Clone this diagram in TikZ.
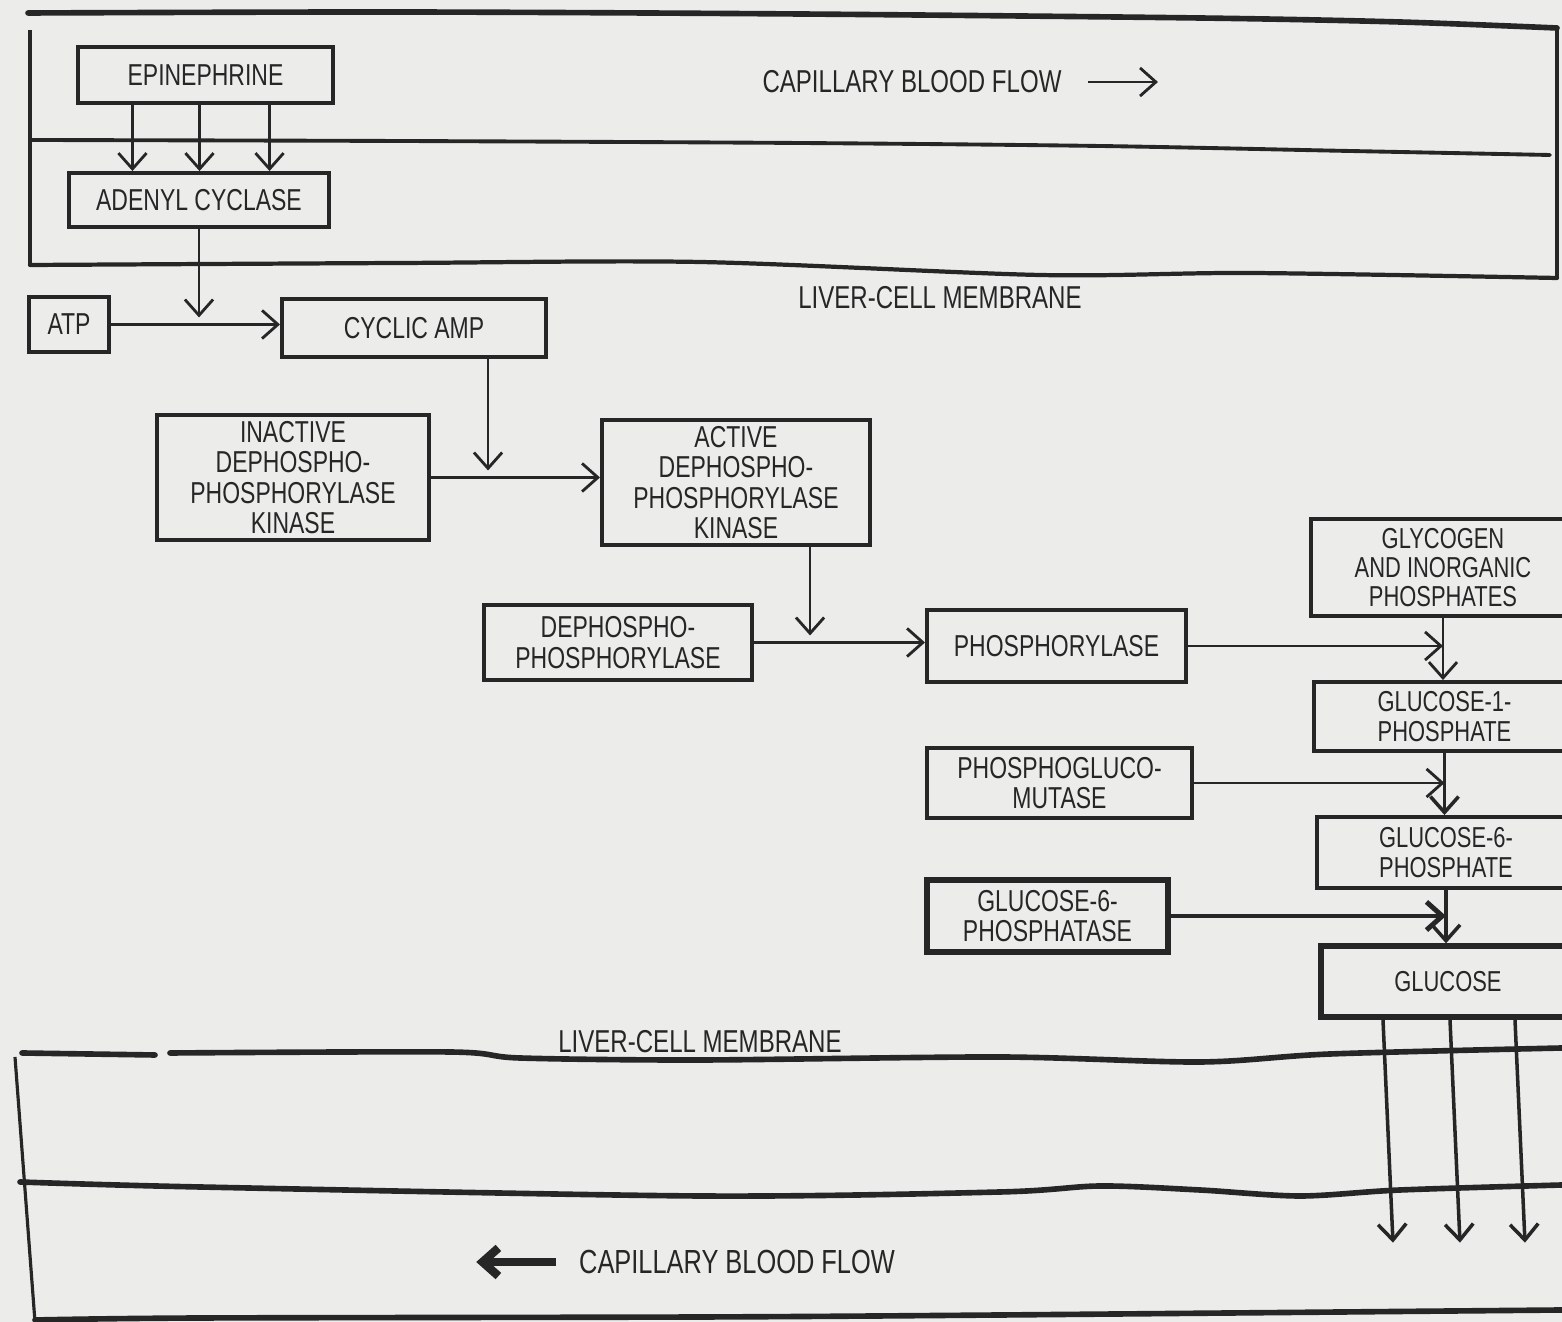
\documentclass[tikz,border=0pt]{standalone}
\usepackage{fontspec}
\setmainfont{Liberation Sans}[FakeStretch=0.76]
\usetikzlibrary{arrows.meta}

\definecolor{papel}{RGB}{236,236,234}
\definecolor{tinta}{RGB}{38,38,38}

\begin{document}
\begin{tikzpicture}[
    x=0.01cm, y=-0.01cm,
    % --- CAJAS: enzimas y metabolitos ---
    caja/.style={draw=tinta, line width=1.1pt, rectangle, inner sep=1pt, align=center,
        text=tinta, font=\fontsize{8.6}{8.7}\selectfont},
    cajaDerecha/.style={caja, font=\fontsize{8.2}{8.3}\selectfont},
    % --- FLECHAS: pasos de la cascada ---
    flechaPaso/.style={-{Straight Barb[length=4.5pt,width=8pt]}, draw=tinta, line width=0.8pt},
    flechaFuerte/.style={flechaPaso, line width=1.4pt},
    % --- MEMBRANAS Y PAREDES ---
    membrana/.style={draw=tinta, line width=1.6pt, line cap=round},
    pared/.style={draw=tinta, line width=0.9pt},
    rotulo/.style={text=tinta, font=\fontsize{9}{9}\selectfont}
]

    % --- FONDO ---
    \useasboundingbox (0,0) rectangle (1562,1322);
    \fill[papel] (0,0) rectangle (1562,1322);
    \clip (0,0) rectangle (1562,1322);

    % --- CAPILAR SUPERIOR ---
    \draw[membrana] plot[smooth] coordinates {(28,13) (400,12) (800,14) (1200,18) (1400,22) (1557,28)};
    \draw[membrana, line width=1.1pt] plot[smooth] coordinates {(30,140) (400,141) (800,143) (1100,146) (1350,151) (1550,155)};
    \draw[membrana, line width=1.2pt] plot[smooth] coordinates {(30,265) (400,263) (700,262) (1040,275) (1250,273) (1557,278)};
    \draw[pared] (30,30) -- (30,266);
    \draw[pared] (1557,28) -- (1557,278);

    % --- CAPILAR INFERIOR ---
    \draw[membrana] plot[smooth] coordinates {(22,1053) (155,1055)};
    \draw[membrana] plot[smooth] coordinates {(170,1053) (450,1052) (520,1058) (700,1060) (1000,1057) (1200,1062) (1330,1054) (1562,1048)};
    \draw[membrana] plot[smooth] coordinates {(20,1182) (200,1187) (700,1196) (1000,1192) (1100,1186) (1200,1190) (1300,1196) (1400,1190) (1562,1185)};
    \draw[membrana] plot[smooth] coordinates {(35,1320) (200,1318) (700,1317) (1000,1315) (1562,1310)};
    \draw[pared] (15,1057) -- (35,1322);

    % --- ROTULOS ---
    \node[rotulo] (flujoArriba) at (912,82) {CAPILLARY BLOOD FLOW};
    \node[rotulo] (membranaArriba) at (940,298) {LIVER-CELL MEMBRANE};
    \node[rotulo] (membranaAbajo) at (700,1042) {LIVER-CELL MEMBRANE};
    \node[rotulo, font=\fontsize{9.5}{9.5}\selectfont] (flujoAbajo) at (737,1262) {CAPILLARY BLOOD FLOW};
    \draw[flechaPaso] ([xshift=4pt]flujoArriba.east) -- ++(70,0);
    \draw[flechaPaso, line width=2.4pt] ([xshift=-3pt]flujoAbajo.west) -- ++(-80,0);

    % --- CASCADA DE LA MEMBRANA ---
    \node[caja, minimum width=2.55cm, minimum height=0.56cm] (epi) at (205.5,75) {EPINEPHRINE};
    \node[caja, minimum width=2.60cm, minimum height=0.54cm] (adenyl) at (199,200) {ADENYL CYCLASE};
    \node[caja, minimum width=0.80cm, minimum height=0.55cm] (atp) at (69,324.5) {ATP};
    \node[caja, minimum width=2.64cm, minimum height=0.58cm] (camp) at (414,328) {CYCLIC AMP};

    % --- QUINASAS ---
    \node[caja, minimum width=2.72cm, minimum height=1.25cm] (inactive) at (293,477.5)
        {INACTIVE\\DEPHOSPHO-\\PHOSPHORYLASE\\KINASE};
    \node[caja, minimum width=2.68cm, minimum height=1.25cm] (active) at (736,482.5)
        {ACTIVE\\DEPHOSPHO-\\PHOSPHORYLASE\\KINASE};
    \node[caja, minimum width=2.68cm, minimum height=0.75cm] (dephos) at (618,642.5)
        {DEPHOSPHO-\\PHOSPHORYLASE};
    \node[caja, minimum width=2.59cm, minimum height=0.72cm] (phos) at (1056.5,646) {PHOSPHORYLASE};

    % --- ENZIMAS DE LA GLUCOSA ---
    \node[caja, minimum width=2.65cm, minimum height=0.70cm] (mutase) at (1059.5,783)
        {PHOSPHOGLUCO-\\MUTASE};
    \node[caja, minimum width=2.41cm, minimum height=0.72cm, line width=1.5pt] (phosphatase) at (1047.5,916)
        {GLUCOSE-6-\\PHOSPHATASE};

    % --- METABOLITOS (columna derecha) ---
    \node[cajaDerecha, minimum width=2.64cm, minimum height=0.97cm] (glyc) at (1443,567.5)
        {GLYCOGEN\\AND INORGANIC\\PHOSPHATES};
    \node[cajaDerecha, minimum width=2.61cm, minimum height=0.69cm] (g1p) at (1444.5,716.5)
        {GLUCOSE-1-\\PHOSPHATE};
    \node[cajaDerecha, minimum width=2.58cm, minimum height=0.71cm] (g6p) at (1446,852.5)
        {GLUCOSE-6-\\PHOSPHATE};
    \node[cajaDerecha, minimum width=2.54cm, minimum height=0.71cm, line width=1.5pt] (glucose) at (1448,981.5)
        {GLUCOSE};

    % --- PUNTOS DE BAJADA ---
    \coordinate (bajadaAMP) at ([xshift=0.74cm]camp.south);
    \coordinate (bajadaKinasa) at ([xshift=0.74cm]active.south);

    % --- FLECHAS DE LA MEMBRANA ---
    \foreach \dx in {-0.73,-0.06,0.64}
        \draw[flechaPaso] ([xshift=\dx cm]epi.south) -- ([xshift=\dx cm]epi.south |- adenyl.north);
    \draw[flechaPaso, shorten >=2pt] (adenyl.south) -- (adenyl.south |- atp.east);
    \draw[flechaPaso] (atp.east) -- (atp.east -| camp.west);

    % --- FLECHAS DE LAS QUINASAS ---
    \draw[flechaPaso, shorten >=2pt] (bajadaAMP) -- (bajadaAMP |- inactive.east);
    \draw[flechaPaso] (inactive.east) -- (inactive.east -| active.west);
    \draw[flechaPaso, shorten >=2pt] (bajadaKinasa) -- (bajadaKinasa |- dephos.east);
    \draw[flechaPaso] (dephos.east) -- (dephos.east -| phos.west);

    % --- FLECHAS DE LA COLUMNA DERECHA ---
    \draw[flechaPaso] (phos.east) -- (phos.east -| glyc.south);
    \draw[flechaPaso] (glyc.south) -- (glyc.south |- g1p.north);
    \draw[flechaPaso] (mutase.east) -- (mutase.east -| g1p.south);
    \draw[flechaPaso, line width=1pt] (g1p.south) -- (g1p.south |- g6p.north);
    \draw[flechaFuerte] (phosphatase.east) -- (phosphatase.east -| g6p.south);
    \draw[flechaPaso, line width=1pt] (g6p.south) -- (g6p.south |- glucose.north);

    % --- SALIDA DE GLUCOSA A LA SANGRE ---
    \foreach \dx in {-65,2,67}
        \draw[flechaPaso, line width=1pt] ([xshift=\dx*0.01cm]glucose.south) -- ++(10,223);

\end{tikzpicture}
\end{document}
